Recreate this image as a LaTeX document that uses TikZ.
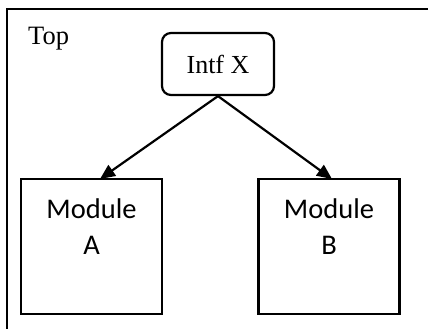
\documentclass[tikz,border=0pt]{standalone}
\usepackage{fontspec}
\setmainfont{Liberation Serif}
\newfontfamily\modfont{Carlito}
\usetikzlibrary{arrows.meta}
\begin{document}
\begin{tikzpicture}[x=1pt,y=-1pt,
  outline/.style={draw=black, line width=2.2pt},
  intfbox/.style={outline, rounded corners=9pt, minimum width=112pt, minimum height=62pt, inner sep=0pt, font=\fontsize{26}{30}\selectfont},
  modbox/.style={outline, minimum width=141pt, minimum height=135pt, inner sep=0pt},
  modtext/.style={anchor=base, inner sep=0pt, font=\modfont\fontsize{28.5}{34}\selectfont},
  link/.style={line width=2.2pt, -{Triangle[length=15pt,width=13pt]}}]
\useasboundingbox (0,0) rectangle (428,329);
\clip (0,0) rectangle (428,329);
% outer "Top" frame, running off the right and bottom edges
\draw[outline] (7,9) rectangle (450,350);
\node[anchor=base west, inner sep=0pt, font=\fontsize{26.5}{30}\selectfont] (top) at (28,45) {Top};
% interface
\node[intfbox] (intf) at (218,64) {Intf X};
% modules
\node[modbox] (ma) at (91.5,246.5) {};
\node[modtext] (ma1) at (91.5,218) {Module};
\node[modtext] (ma2) at (91.5,254) {A};
\node[modbox] (mb) at (329,246.5) {};
\node[modtext] (mb1) at (329,218) {Module};
\node[modtext] (mb2) at (329,254) {B};
% arrow tips on the module tops
\coordinate (ta) at (100,179);
\coordinate (tb) at (332,179);
\draw[link] (intf.south) -- (ta);
\draw[link] (intf.south) -- (tb);
\end{tikzpicture}
\end{document}
